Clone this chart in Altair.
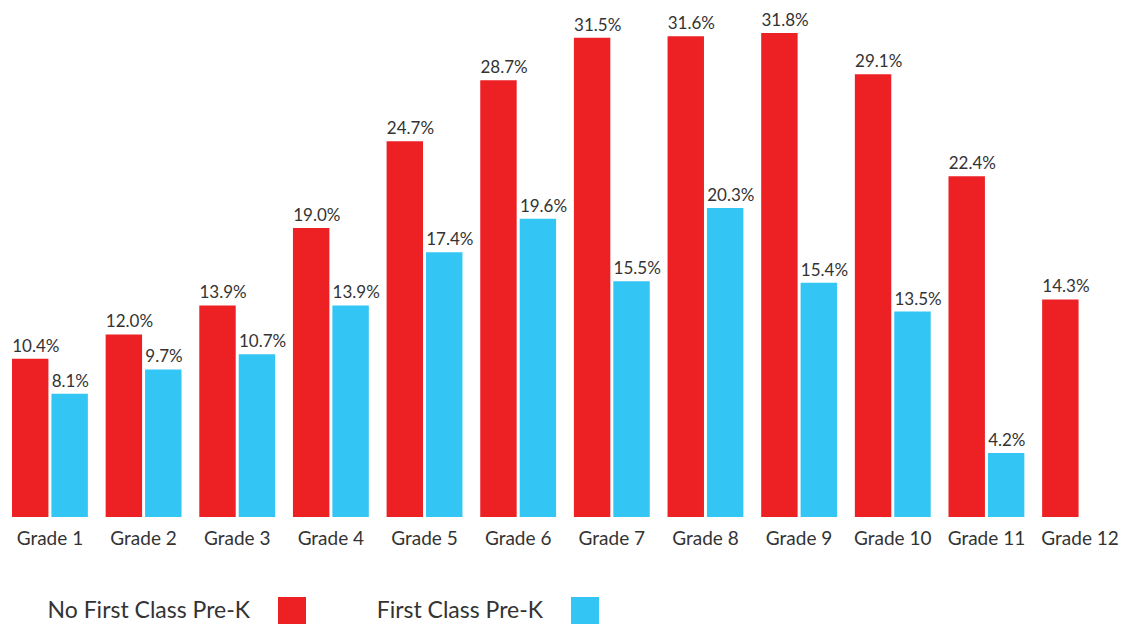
import altair as alt
import pandas as pd

grades = [f"Grade {i}" for i in range(1, 13)]
no_first_class = [10.4, 12.0, 13.9, 19.0, 24.7, 28.7, 31.5, 31.6, 31.8, 29.1, 22.4, 14.3]
first_class = [8.1, 9.7, 10.7, 13.9, 17.4, 19.6, 15.5, 20.3, 15.4, 13.5, 4.2, None]
series = ["No First Class Pre-K", "First Class Pre-K"]
colors = ["#ED2024", "#33C5F3"]

rows = []
for g, a, b in zip(grades, no_first_class, first_class):
    for s, v in zip(series, [a, b]):
        if v is not None:
            rows.append({"grade": g, "series": s, "value": v, "label": f"{v:.1f}%"})
df = pd.DataFrame(rows)

FONT = "Lato"
TXT = "#333333"

base = alt.Chart(df).encode(
    x=alt.X(
        "grade:N",
        sort=grades,
        scale=alt.Scale(paddingInner=0.19, paddingOuter=0.0267, align=0.8),
        axis=alt.Axis(
            title=None, labelAngle=0, domain=False, ticks=False,
            labelFontSize=19, labelColor=TXT, labelFont=FONT, labelPadding=12,
        ),
    ),
    xOffset=alt.XOffset("series:N", sort=series, scale=alt.Scale(paddingInner=0.076, paddingOuter=0)),
    y=alt.Y("value:Q", scale=alt.Scale(domain=[0, 33.45], nice=False), axis=None),
)

bars = base.mark_bar().encode(
    color=alt.Color(
        "series:N",
        sort=series,
        scale=alt.Scale(domain=series, range=colors),
        legend=alt.Legend(
            title=None, orient="none", legendX=270, legendY=589,
            direction="horizontal", symbolType="square", symbolSize=784,
            symbolStrokeWidth=0, symbolOpacity=1,
            labelFontSize=23, labelColor=TXT, labelFont=FONT,
            labelAlign="right", labelOffset={"expr": "-56"}, symbolOffset=0,
            columnPadding=70, labelLimit=400,
        ),
    )
)

labels = base.mark_text(
    align="left", baseline="bottom", dx=-18, dy=-3, fontSize=17, color=TXT, font=FONT
).encode(text="label:N")

chart = (
    alt.layer(bars, labels)
    .properties(
        width=1111, height=509,
        background="white",
        autosize=alt.AutoSizeParams(type="none"),
        padding={"left": 0, "top": 0, "right": 0, "bottom": 107},
    )
    .configure_view(stroke="transparent", strokeWidth=0)
)

chart.save("out.html", embed_options={"renderer": "svg", "actions": False})
